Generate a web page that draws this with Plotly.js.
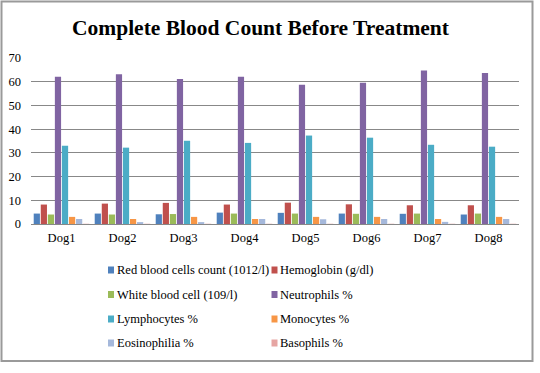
<!DOCTYPE html>
<html><head><meta charset="utf-8">
<script src="https://cdn.plot.ly/plotly-3.0.1.min.js"></script>
<style>html,body{margin:0;padding:0;background:#fff;}#chart{width:540px;height:373px;}</style>
</head><body><div id="chart"></div>
<script>
const categories = ["Dog1","Dog2","Dog3","Dog4","Dog5","Dog6","Dog7","Dog8"];
const seriesNames = ["Red blood cells count (1012/l)","Hemoglobin (g/dl)","White blood cell (109/l)","Neutrophils %","Lymphocytes %","Monocytes %","Eosinophilia %","Basophils %"];
const rbc   = [4.4, 4.4, 4.1, 4.8, 4.7, 4.4, 4.3, 4.0];
const hgb   = [8.2, 8.6, 8.9, 8.2, 9.0, 8.3, 7.9, 7.9];
const wbc   = [4.0, 4.0, 4.2, 4.4, 4.4, 4.3, 4.4, 4.4];
const neut  = [62.1, 63.1, 61.1, 62.1, 58.7, 59.6, 64.7, 63.7];
const lymph = [33.0, 32.2, 35.1, 34.2, 37.3, 36.4, 33.4, 32.6];
const mono  = [3.0, 2.1, 3.0, 2.1, 3.0, 3.0, 2.1, 3.0];
const eos   = [2.1, 0.8, 0.8, 2.1, 2.0, 2.1, 0.9, 2.1];
const baso  = [0.1, 0.1, 0.1, 0.1, 0.1, 0.1, 0.1, 0.1];
const yTicks = [0, 10, 20, 30, 40, 50, 60, 70];

const values = [rbc, hgb, wbc, neut, lymph, mono, eos, baso];
const colors = ["#4F81BD","#C0504D","#9BBB59","#8064A2","#4BACC6","#F79646","#A5B8DB","#E6A5A3"];

const W = 540, H = 373;
const L = 31, R = 519, T = 58, B = 224;
const px2x = p => (p - L) / (R - L);
const px2y = p => 1 - (p - T) / (B - T);

const font = "Liberation Serif";
const traces = values.map((v, i) => ({
  type: "bar", name: seriesNames[i], x: categories, y: v,
  marker: {color: colors[i]}, hoverinfo: "skip", showlegend: false
}));

// manual legend: two columns, four rows
const colMarkerX = [108, 271.5];
const colTextX = [117, 280];
const rowY = [270, 294.5, 319, 343];
const legendShapes = [], legendAnn = [];
seriesNames.forEach((name, i) => {
  const c = i % 2, r = Math.floor(i / 2);
  legendShapes.push({type: "rect", xref: "paper", yref: "paper",
    x0: px2x(colMarkerX[c]), x1: px2x(colMarkerX[c] + 6), y0: px2y(rowY[r] + 3.5), y1: px2y(rowY[r] - 3.5),
    line: {width: 0}, fillcolor: colors[i]});
  legendAnn.push({xref: "paper", yref: "paper", x: px2x(colTextX[c]), y: px2y(rowY[r]), xanchor: "left", yanchor: "middle",
    text: name, showarrow: false, xshift: -2, font: {family: font, size: 12.5, color: "#000"}});
});

const layout = {
  width: W, height: H,
  margin: {l: L, r: W - R, t: T, b: H - B},
  paper_bgcolor: "#fff", plot_bgcolor: "#fff",
  font: {family: font, size: 12.5, color: "#000"},
  title: {text: "<b>Complete Blood Count Before Treatment</b>", font: {family: font, size: 21.5, color: "#000"},
          xref: "container", x: 260.5 / W, xanchor: "center", yref: "container", y: 1 - 27 / H, yanchor: "middle"},
  barmode: "group", bargap: 0.075, bargroupgap: 0.12,
  xaxis: {type: "category", showgrid: false, showline: false, ticks: "", zeroline: false,
          tickfont: {family: font, size: 12.5, color: "#000"}, ticklabelstandoff: 4},
  yaxis: {range: [0, 70], tickvals: yTicks, ticktext: yTicks.map(String), showgrid: true, gridcolor: "#888888", gridwidth: 1,
          zeroline: true, zerolinecolor: "#888888", zerolinewidth: 1, showline: false, ticks: "",
          tickfont: {family: font, size: 12.5, color: "#000"}, ticklabelstandoff: 9},
  showlegend: false,
  annotations: legendAnn,
  shapes: [{type: "rect", xref: "paper", yref: "paper", x0: px2x(1.5), x1: px2x(532.5), y0: px2y(361), y1: px2y(1.5),
            line: {color: "#9a9a9a", width: 2}, fillcolor: "rgba(0,0,0,0)", layer: "below"}].concat(legendShapes)
};

Plotly.newPlot("chart", traces, layout, {displayModeBar: false, staticPlot: true});
</script></body></html>
